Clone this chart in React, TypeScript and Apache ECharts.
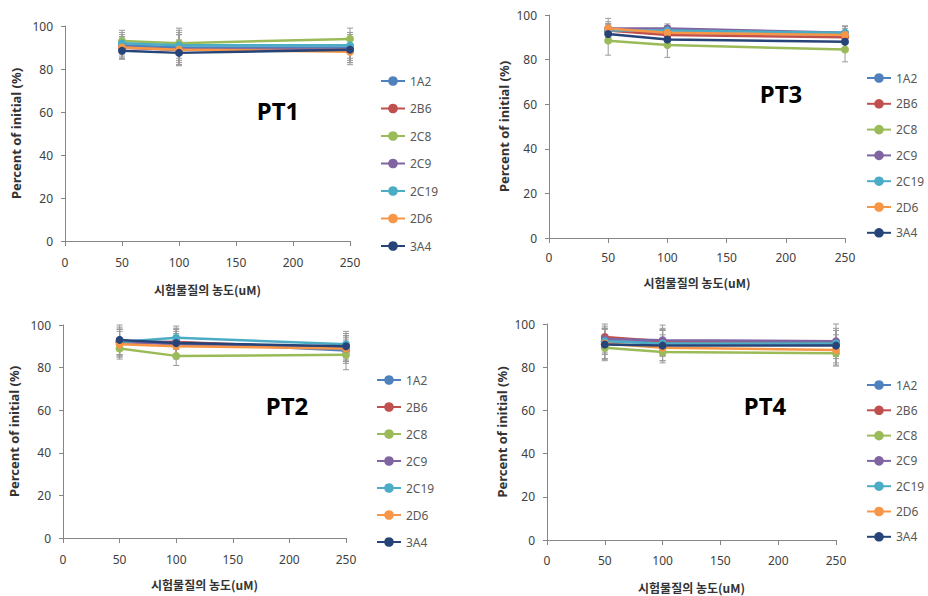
import React, { useEffect, useRef } from 'react';
import * as echarts from 'echarts';

const doses = [50, 100, 250];
const cypNames = ['1A2', '2B6', '2C8', '2C9', '2C19', '2D6', '3A4'];
const cypColors = ['#4F81BD', '#C0504D', '#9BBB59', '#8064A2', '#4BACC6', '#F79646', '#264478'];
const xTicks = [0, 50, 100, 150, 200, 250];
const yTicks = [0, 20, 40, 60, 80, 100];
const panelTitles = ['PT1', 'PT3', 'PT2', 'PT4'];
const xAxisTitle = '시험물질의 농도(uM)';
const yAxisTitle = 'Percent of initial (%)';

// mean values per CYP (rows follow cypNames), at doses 50, 100, 250
const pt1Values = [
  [91, 90, 90],
  [90, 89, 89],
  [93, 92, 94],
  [90, 89, 89],
  [92, 91, 91],
  [90, 89, 88],
  [88.5, 87.5, 89],
];
const pt1Err = [
  [5, 7, 6],
  [5, 7, 6],
  [5, 7, 5],
  [5, 7, 6],
  [5, 7, 6],
  [5, 7, 6],
  [4, 6, 6],
];

const pt3Values = [
  [93, 92, 91],
  [93, 91, 90],
  [88.5, 86.5, 84.5],
  [94, 94, 92],
  [93, 93, 92],
  [94, 92, 91],
  [91.5, 89, 88],
];
const pt3Err = [
  [3, 3, 3],
  [3, 3, 3],
  [6.5, 5.5, 5.5],
  [3, 2, 3],
  [3, 2, 3],
  [4.5, 3, 4],
  [3, 3, 3],
];

const pt2Values = [
  [92, 92, 88],
  [92, 92, 89],
  [89, 85.5, 86],
  [92, 91, 89],
  [92, 94, 91],
  [91, 90, 89],
  [93, 91.5, 90],
];
const pt2Err = [
  [6, 6, 6],
  [6, 6, 6],
  [5, 4.5, 7],
  [6, 6, 6],
  [7, 5.5, 6],
  [6, 6, 6],
  [7, 7, 6],
];

const pt4Values = [
  [92, 91.5, 91],
  [94, 92, 91],
  [89, 87, 86.5],
  [93, 92.5, 92],
  [92, 91, 91],
  [91, 89, 88],
  [90.5, 90, 90],
];
const pt4Err = [
  [6, 6, 6],
  [6, 6, 6],
  [6, 5, 6],
  [6, 7, 8],
  [6, 6, 6],
  [7, 6, 7],
  [7, 7, 8],
];

const panelValues = [pt1Values, pt3Values, pt2Values, pt4Values];
const panelErrs = [pt1Err, pt3Err, pt2Err, pt4Err];

// layout per panel (positions only)
const layouts = [
  { left: 65, top: 26, width: 285, height: 215, xGap: 42, yGap: 43, labelMargin: 15, legLeft: 380, legTop: 75, legGap: 15.5, titleX: 278, titleY: 110 },
  { left: 549, top: 15, width: 296, height: 223, xGap: 38, yGap: 39, labelMargin: 13, legLeft: 866, legTop: 72, legGap: 13.8, titleX: 781, titleY: 93 },
  { left: 63, top: 325, width: 283, height: 213, xGap: 40, yGap: 43, labelMargin: 15, legLeft: 376, legTop: 374, legGap: 15, titleX: 287, titleY: 405 },
  { left: 547, top: 324, width: 289, height: 216, xGap: 41, yGap: 39, labelMargin: 14, legLeft: 866, legTop: 379, legGap: 13.3, titleX: 765, titleY: 405 },
];

const FONT = "'Noto Sans', 'Noto Sans CJK KR', sans-serif";

export default function App() {
  const ref = useRef<HTMLDivElement>(null);

  useEffect(() => {
    document.body.style.margin = '0';
    if (!ref.current) return;
    const chart = echarts.init(ref.current, null, { renderer: 'svg' });

    const series: any[] = [];
    panelValues.forEach((vals, pi) => {
      const errs = panelErrs[pi];
      vals.forEach((row, si) => {
        series.push({
          type: 'custom',
          name: 'err-' + cypNames[si] + '-' + pi,
          xAxisIndex: pi,
          yAxisIndex: pi,
          z: 1,
          silent: true,
          encode: { x: 0, y: [1, 2] },
          data: doses.map((d, k) => [d, row[k] - errs[si][k], row[k] + errs[si][k]]),
          renderItem: (params: any, api: any) => {
            const x = api.value(0);
            const p1 = api.coord([x, api.value(1)]);
            const p2 = api.coord([x, api.value(2)]);
            const w = 3;
            const st = { stroke: '#9A9A9A', lineWidth: 1 };
            return {
              type: 'group',
              children: [
                { type: 'line', shape: { x1: p1[0], y1: p1[1], x2: p2[0], y2: p2[1] }, style: st },
                { type: 'line', shape: { x1: p1[0] - w, y1: p1[1], x2: p1[0] + w, y2: p1[1] }, style: st },
                { type: 'line', shape: { x1: p2[0] - w, y1: p2[1], x2: p2[0] + w, y2: p2[1] }, style: st },
              ],
            };
          },
        });
      });
      vals.forEach((row, si) => {
        series.push({
          type: 'line',
          name: cypNames[si],
          xAxisIndex: pi,
          yAxisIndex: pi,
          z: 3,
          color: cypColors[si],
          symbol: 'circle',
          symbolSize: 8,
          lineStyle: { width: 2.5, color: cypColors[si] },
          itemStyle: { color: cypColors[si] },
          data: doses.map((d, k) => [d, row[k]]),
        });
      });
    });

    const option: any = {
      animation: false,
      backgroundColor: '#ffffff',
      grid: layouts.map((l) => ({ left: l.left, top: l.top, width: l.width, height: l.height, containLabel: false })),
      xAxis: layouts.map((l, i) => ({
        gridIndex: i,
        type: 'value',
        min: xTicks[0],
        max: xTicks[xTicks.length - 1],
        interval: xTicks[1] - xTicks[0],
        name: xAxisTitle,
        nameLocation: 'middle',
        nameGap: l.xGap,
        nameTextStyle: { fontWeight: 'bold', fontSize: 12, color: '#333', fontFamily: "'Noto Sans CJK KR', sans-serif" },
        axisLine: { show: true, lineStyle: { color: '#868686', width: 1 } },
        axisTick: { show: true, length: 5, lineStyle: { color: '#868686' } },
        axisLabel: { color: '#404040', fontSize: 12, margin: l.labelMargin, fontFamily: FONT },
        splitLine: { show: false },
      })),
      yAxis: layouts.map((l, i) => ({
        gridIndex: i,
        type: 'value',
        min: yTicks[0],
        max: yTicks[yTicks.length - 1],
        interval: yTicks[1] - yTicks[0],
        name: yAxisTitle,
        nameLocation: 'middle',
        nameGap: l.yGap,
        nameRotate: 90,
        nameTextStyle: { fontWeight: 'bold', fontSize: 13, color: '#333', fontFamily: FONT },
        axisLine: { show: true, lineStyle: { color: '#868686', width: 1 } },
        axisTick: { show: true, length: 4, lineStyle: { color: '#868686' } },
        axisLabel: { color: '#404040', fontSize: 12, margin: 12, fontFamily: FONT },
        splitLine: { show: false },
      })),
      legend: layouts.map((l) => ({
        orient: 'vertical',
        left: l.legLeft,
        top: l.legTop,
        padding: 0,
        itemWidth: 24,
        itemHeight: 12,
        itemGap: l.legGap,
        selectedMode: false,
        textStyle: { fontSize: 12, color: '#595959', fontFamily: FONT, lineHeight: 12, overflow: 'none' },
        data: cypNames,
      })),
      graphic: layouts.map((l, i) => ({
        type: 'text',
        x: l.titleX,
        y: l.titleY,
        z: 10,
        style: {
          text: panelTitles[i],
          fontSize: 24,
          fontWeight: 'bold',
          fontFamily: FONT,
          fill: '#000',
          align: 'center',
          verticalAlign: 'middle',
        },
      })),
      series,
    };

    chart.setOption(option);
    return () => chart.dispose();
  }, []);

  return <div ref={ref} style={{ width: 928, height: 596, position: 'absolute', left: 0, top: 0 }} />;
}
